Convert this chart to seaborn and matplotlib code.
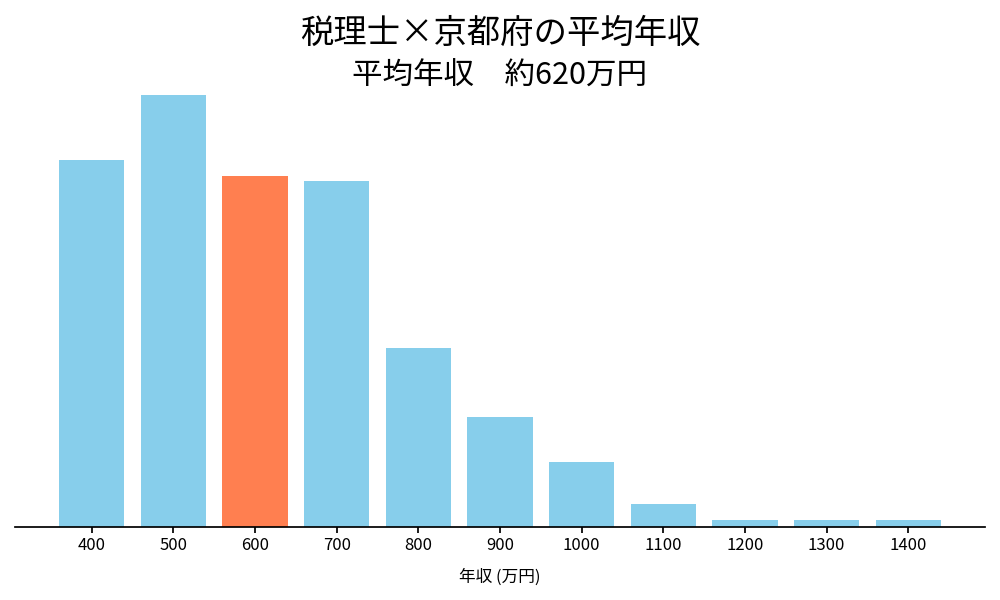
import matplotlib
matplotlib.use("Agg")
import matplotlib.pyplot as plt
import seaborn as sns
import pandas as pd

incomes = ["400", "500", "600", "700", "800", "900", "1000", "1100", "1200", "1300", "1400"]
counts = [367, 432, 351, 346, 179, 110, 65, 23, 7, 7, 7]
highlight = "600"
title_line1 = "税理士×京都府の平均年収"
title_line2 = "平均年収　約620万円"

sns.set_theme(style="white")
plt.rcParams['font.family'] = ['Noto Sans CJK JP', 'DejaVu Sans']
plt.rcParams['text.color'] = 'black'
plt.rcParams['axes.labelcolor'] = 'black'
plt.rcParams['xtick.color'] = 'black'

df = pd.DataFrame({"income": incomes, "count": counts})
colors = {k: ("#FF7F50" if k == highlight else "#87CEEB") for k in incomes}

fig = plt.figure(figsize=(10, 6), dpi=100)
ax = fig.add_axes([0.015, 1 - 527 / 600, 0.97, (527 - 93) / 600])
sns.barplot(data=df, x="income", y="count", hue="income", palette=colors,
            order=incomes, hue_order=incomes, legend=False, width=0.8,
            saturation=1, linewidth=0, ax=ax)
ax.set_xlim(-0.94, len(incomes) - 1 + 0.94)
ax.set_ylim(0, max(counts) * 1.005)
fig.text(0.5, 1 - 33 / 600, title_line1, fontsize=24, ha="center", va="center")
fig.text(0.5, 1 - 76 / 600, title_line2, fontsize=22, ha="center", va="center")
ax.set_xlabel("年収 (万円)", fontsize=12, labelpad=10)
ax.set_ylabel("")
ax.set_yticks([])
for s in ["left", "top", "right"]:
    ax.spines[s].set_visible(False)
ax.spines["bottom"].set_color("black")
ax.tick_params(axis="x", bottom=True, length=4, color="black", labelsize=12)
fig.savefig("out.png", dpi=100)
